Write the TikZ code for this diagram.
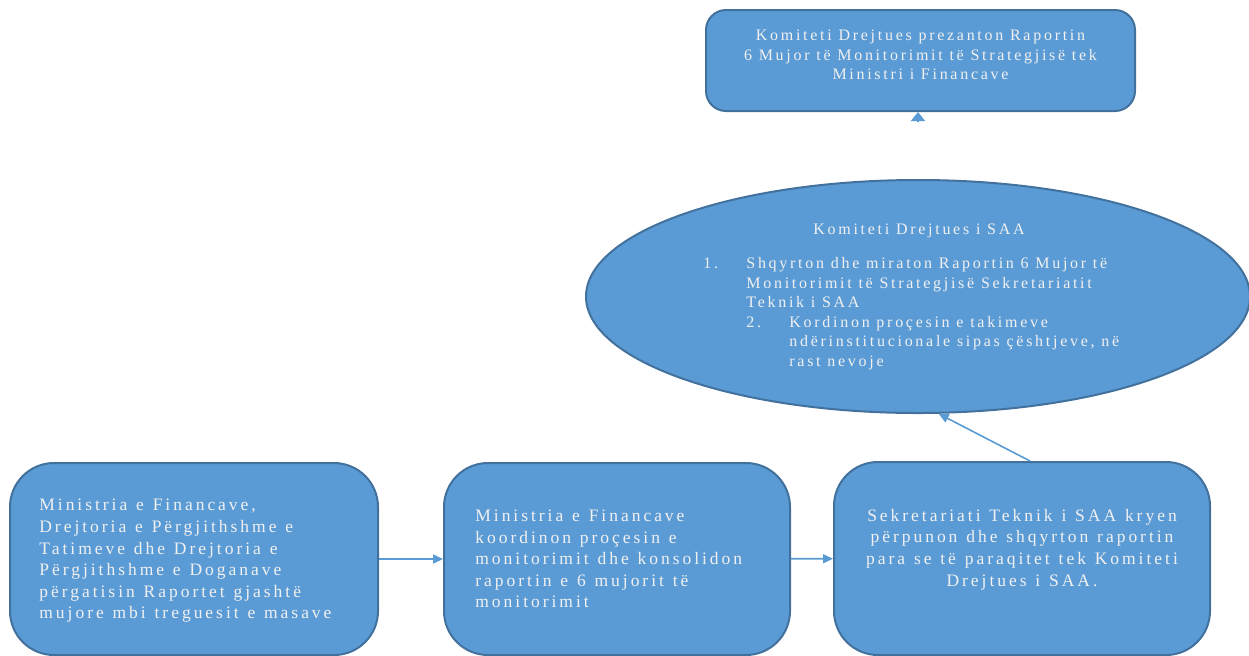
\documentclass[tikz,border=0pt]{standalone}
\usepackage{fontspec}
\setmainfont{Liberation Serif}[LetterSpace=17]
\newfontfamily\boxfont{Liberation Serif}[LetterSpace=17,WordSpace=1.2]
\usetikzlibrary{arrows.meta,positioning,shapes.geometric}
\definecolor{boxfill}{HTML}{5B9BD5}
\definecolor{boxline}{HTML}{41719C}

\begin{document}
\begin{tikzpicture}[x=0.5pt,y=-0.5pt,>={Triangle[length=5pt,width=4.5pt]}]
  \tikzstyle{nodeBox}=[rectangle,rounded corners=22pt,draw=boxline,line width=1pt,fill=boxfill,text=white!94!black,font=\boxfont\fontsize{8.75}{10.8}\selectfont,inner sep=0pt]
  \tikzstyle{nodeTop}=[nodeBox,rounded corners=10pt,font=\rmfamily\fontsize{8}{9.75}\selectfont]
  \tikzstyle{nodeE}=[ellipse,draw=boxline,line width=1pt,fill=boxfill,inner sep=0pt]
  \tikzstyle{nodeT}=[text=white!94!black,font=\fontsize{8}{9.75}\selectfont,inner sep=0pt]
  \tikzstyle{nodeBT}=[text=white!94!black,font=\boxfont\fontsize{8.75}{10.8}\selectfont,inner sep=0pt,align=left]
  \tikzstyle{arr}=[->,color=boxfill,line width=0.8pt]
  \useasboundingbox (0,0) rectangle (1249,655);

  % top box and committee
  \node[nodeTop, minimum width=214.5pt, minimum height=50.5pt, align=center] (n_top) at (920.5,60.5)
    {Komiteti Drejtues prezanton Raportin\\ 6 Mujor të Monitorimit të Strategjisë tek\\ Ministri i Financave\\[-4pt] \mbox{}};
  \node[nodeE, minimum width=332pt, minimum height=116.5pt] (n_saa) at (918,296.5) {};
  \node[nodeT] (n_saa_title) at (919,231) {Komiteti Drejtues i SAA};
  \node[nodeT, anchor=north west, align=left] (n_saa_list) at (703,257)
    {\makebox[21.5pt][l]{1.}Shqyrton dhe miraton Raportin 6 Mujor të\\
     \hspace*{21.5pt}Monitorimit të Strategjisë Sekretariatit\\
     \hspace*{21.5pt}Teknik i SAA\\
     \hspace*{21.5pt}\makebox[21.5pt][l]{2.}Kordinon proçesin e takimeve\\
     \hspace*{43pt}ndërinstitucionale sipas çështjeve, në\\
     \hspace*{43pt}rast nevoje};

  % bottom row
  \node[nodeBox, minimum width=184pt, minimum height=96pt] (n_mf) at (194,559) {};
  \node[nodeBT, right=15pt of n_mf.west, yshift=-1pt] (n_mf_txt)
    {Ministria e Financave,\\ Drejtoria e Përgjithshme e\\ Tatimeve dhe Drejtoria e\\ Përgjithshme e Doganave\\ përgatisin Raportet gjashtë\\ mujore mbi treguesit e masave};
  \node[nodeBox, minimum width=173pt, minimum height=96pt] (n_koord) at (617,559) {};
  \node[nodeBT, right=16pt of n_koord.west] (n_koord_txt)
    {Ministria e Financave\\ koordinon proçesin e\\ monitorimit dhe konsolidon\\ raportin e 6 mujorit të\\ monitorimit};
  \node[nodeBox, minimum width=188pt, minimum height=96.5pt, align=center] (n_sekr) at (1022,558.5)
    {Sekretariati Teknik i SAA kryen\\ përpunon dhe shqyrton raportin\\ para se të paraqitet tek Komiteti\\ Drejtues i SAA.\\ \mbox{}};

  \coordinate (c_top) at (918,122);

  \draw[arr] (n_mf) -- (n_koord);
  \draw[arr] (n_koord) -- (n_sekr);
  \draw[arr] ([xshift=4pt]n_sekr.north) -- (n_saa.-80);
  \draw[arr, >={Triangle[length=4.5pt,width=7pt]}] (c_top) -- (c_top |- n_top.south);
\end{tikzpicture}
\end{document}
